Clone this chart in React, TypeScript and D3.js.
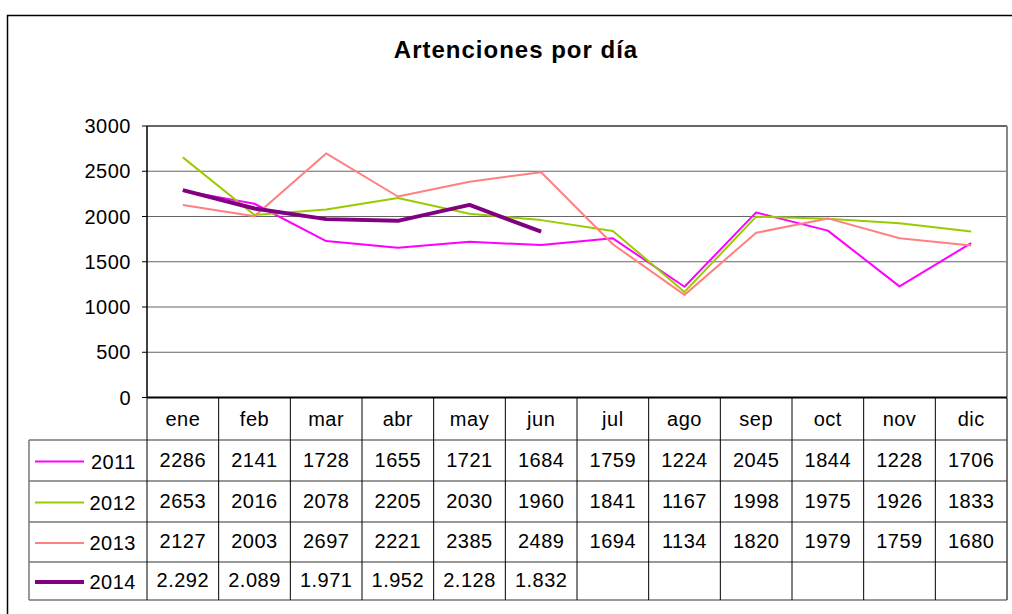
import * as d3 from 'd3';
import React from 'react';

const months = ['ene', 'feb', 'mar', 'abr', 'may', 'jun', 'jul', 'ago', 'sep', 'oct', 'nov', 'dic'];
const years = ['2011', '2012', '2013', '2014'];
const v2011 = [2286, 2141, 1728, 1655, 1721, 1684, 1759, 1224, 2045, 1844, 1228, 1706];
const v2012 = [2653, 2016, 2078, 2205, 2030, 1960, 1841, 1167, 1998, 1975, 1926, 1833];
const v2013 = [2127, 2003, 2697, 2221, 2385, 2489, 1694, 1134, 1820, 1979, 1759, 1680];
const v2014 = [2292, 2089, 1971, 1952, 2128, 1832];
const yTicks = [0, 500, 1000, 1500, 2000, 2500, 3000];

const colors = ['#ff00ff', '#99cc00', '#ff8080', '#800080'];
const widths = [2, 2, 2, 4];
const values = [v2011, v2012, v2013, v2014];

const W = 1012;
const H = 614;
const plotLeft = 147;
const plotRight = 1007;
const plotTop = 126;
const plotBottom = 397.5;
const legendLeft = 29;
const rowLines = [398, 440, 481, 522, 562, 600];
const font = '"Liberation Sans", Arial, sans-serif';

// 2014 is shown with "." as thousands separator
const dotLocale = d3.formatLocale({ decimal: ',', thousands: '.', grouping: [3], currency: ['', ''] });
const fmt2014 = dotLocale.format(',d');

const App = () => {
  const x = d3.scaleBand<string>().domain(months).range([plotLeft, plotRight]);
  const y = d3.scaleLinear().domain([0, 3000]).range([plotBottom, plotTop]);
  const cx = (i: number) => (x(months[i]) as number) + x.bandwidth() / 2;
  const line = d3.line<number>((d, i) => cx(i), (d) => y(d));

  const label = (yi: number, v: number) => (yi === 3 ? fmt2014(v) : String(v));

  return (
    <svg width={W} height={H} style={{ position: 'absolute', left: 0, top: 0, background: '#fff' }} fontFamily={font}>
      {/* outer frame */}
      <path d={`M7.5,${H} V15.5 H${W}`} fill="none" stroke="#000" strokeWidth={1.5} />

      <text x={516} y={58} textAnchor="middle" fontSize={24} fontWeight="bold" letterSpacing={1}>
        Artenciones por día
      </text>

      {/* gridlines */}
      {yTicks.slice(1).map((t) => (
        <line key={t} x1={plotLeft} x2={plotRight} y1={y(t)} y2={y(t)} stroke="#666" strokeWidth={t === 3000 ? 2 : 1.2} />
      ))}
      <line x1={plotRight} x2={plotRight} y1={plotTop} y2={plotBottom} stroke="#888" strokeWidth={2} />

      {/* y axis */}
      <line x1={plotLeft} x2={plotLeft} y1={plotTop} y2={plotBottom} stroke="#000" strokeWidth={1.5} />
      {yTicks.map((t) => (
        <g key={t}>
          <line x1={142} x2={plotLeft} y1={y(t)} y2={y(t)} stroke="#000" strokeWidth={1} />
          <text x={131} y={y(t)} dy="0.36em" textAnchor="end" fontSize={20} letterSpacing={0.5}>
            {t}
          </text>
        </g>
      ))}

      {/* series */}
      {values.map((vals, k) => (
        <path key={k} d={line(vals) as string} fill="none" stroke={colors[k]} strokeWidth={widths[k]} strokeLinejoin="round" />
      ))}

      {/* data table */}
      {rowLines.slice(1).map((ry, i) => (
        <line key={i} x1={legendLeft} x2={plotRight} y1={ry} y2={ry} stroke="#777" strokeWidth={1.5} />
      ))}
      <line x1={legendLeft} x2={legendLeft} y1={rowLines[1]} y2={rowLines[5]} stroke="#777" strokeWidth={1.5} />
      {months.map((m, i) => (
        <line key={m} x1={x(m) as number} x2={x(m) as number} y1={rowLines[0]} y2={rowLines[5]} stroke="#000" strokeWidth={1} />
      ))}
      <line x1={plotRight} x2={plotRight} y1={rowLines[0]} y2={rowLines[5]} stroke="#444" strokeWidth={1.5} />
      <line x1={plotLeft} x2={plotRight} y1={plotBottom} y2={plotBottom} stroke="#000" strokeWidth={2} />

      {months.map((m, i) => (
        <text key={m} x={cx(i)} y={(rowLines[0] + rowLines[1]) / 2} dy="0.36em" textAnchor="middle" fontSize={20} letterSpacing={0.5}>
          {m}
        </text>
      ))}

      {years.map((yr, k) => {
        const cy = (rowLines[k + 1] + rowLines[k + 2]) / 2;
        return (
          <g key={yr}>
            <line x1={35} x2={84} y1={cy + 1} y2={cy + 1} stroke={colors[k]} strokeWidth={widths[k]} />
            <text x={136} y={cy} dy="0.42em" textAnchor="end" fontSize={20} letterSpacing={0.5}>
              {yr}
            </text>
            {values[k].map((v, i) => (
              <text key={i} x={cx(i)} y={cy} dy="0.3em" textAnchor="middle" fontSize={20} letterSpacing={0.5}>
                {label(k, v)}
              </text>
            ))}
          </g>
        );
      })}
    </svg>
  );
};

export default App;
